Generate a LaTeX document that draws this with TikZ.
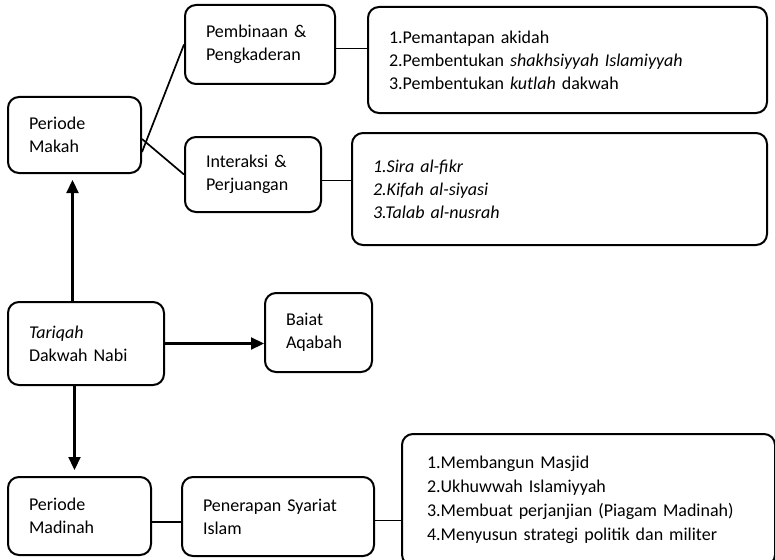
\documentclass[tikz,border=0pt]{standalone}
\usepackage{fontspec}
\setmainfont{Carlito}
\usetikzlibrary{arrows.meta,positioning,calc}

\begin{document}
\begin{tikzpicture}[
  x=1pt,y=-1pt,
  font=\fontsize{18}{23}\selectfont,
  box/.style={draw,line width=2pt,rounded corners=11pt,align=left,inner xsep=21pt,inner ysep=0pt},
  link/.style={line width=1.7pt},
  arrow/.style={-{Triangle[length=13pt,width=12pt]},line width=2.2pt}
]
\useasboundingbox (0,0) rectangle (775,559);
\clip (0,0) rectangle (775,559);

\node[box,text width=91pt,minimum height=76pt] (makah) at (74.5,135) {Periode\\Makah};
\node[box,text width=108pt,minimum height=79pt] (pembinaan) at (260,44.5) {Pembinaan \&\\Pengkaderan};
\node[box,text width=94pt,minimum height=75pt] (interaksi) at (253,174.5) {Interaksi \&\\Perjuangan};
\node[box,text width=357pt,minimum height=106pt] (list1) at (567.5,60)
  {1.Pemantapan akidah\\2.Pembentukan \textit{shakhsiyyah Islamiyyah}\\3.Pembentukan \textit{kutlah} dakwah};
\node[box,text width=373pt,minimum height=112pt,font=\fontsize{18}{23}\selectfont\itshape] (list2) at (559.5,189)
  {1.Sira al-fikr\\2.Kifah al-siyasi\\3.Talab al-nusrah};
\node[box,text width=114pt,minimum height=83pt] (tariqah) at (86,343.5) {\textit{Tariqah}\\Dakwah Nabi};
\node[box,text width=65pt,minimum height=79pt] (baiat) at (318.5,332.5) {Baiat\\Aqabah};
\node[box,text width=101pt,minimum height=78pt] (madinah) at (79.5,516) {Periode\\Madinah};
\node[box,text width=150pt,minimum height=79pt] (penerapan) at (278,516.5) {Penerapan Syariat\\Islam};
\node[box,anchor=north,inner xsep=25pt,inner ysep=22pt,text width=323pt,font=\fontsize{18}{24}\selectfont] (list3) at (588.5,433)
  {1.Membangun Masjid\\2.Ukhuwwah Islamiyyah\\3.Membuat perjanjian (Piagam Madinah)\\4.Menyusun strategi politik dan militer};

\draw[link] ([yshift=-17pt]makah.east) -- (pembinaan.west);
\draw[link] ([yshift=-4pt]makah.east) -- (interaksi.west);
\draw[link] ([yshift=-4pt]pembinaan.east) -- ([yshift=-4pt]pembinaan.east -| list1.west);
\draw[link] ([yshift=-6pt]interaksi.east) -- ([yshift=-6pt]interaksi.east -| list2.west);
\draw[arrow,shorten >=6pt] ([xshift=-2pt]makah.south |- tariqah.north) -- ([xshift=-2pt]makah.south);
\draw[arrow] (tariqah.east) -- (tariqah.east -| baiat.west);
\draw[arrow,shorten >=6pt] ([xshift=-5pt]madinah.north |- tariqah.south) -- ([xshift=-5pt]madinah.north);
\draw[link] ([yshift=-6pt]madinah.east) -- ([yshift=-6pt]madinah.east -| penerapan.west);
\draw[link] ([yshift=-4pt]penerapan.east) -- ([yshift=-4pt]penerapan.east -| list3.west);
\end{tikzpicture}
\end{document}
